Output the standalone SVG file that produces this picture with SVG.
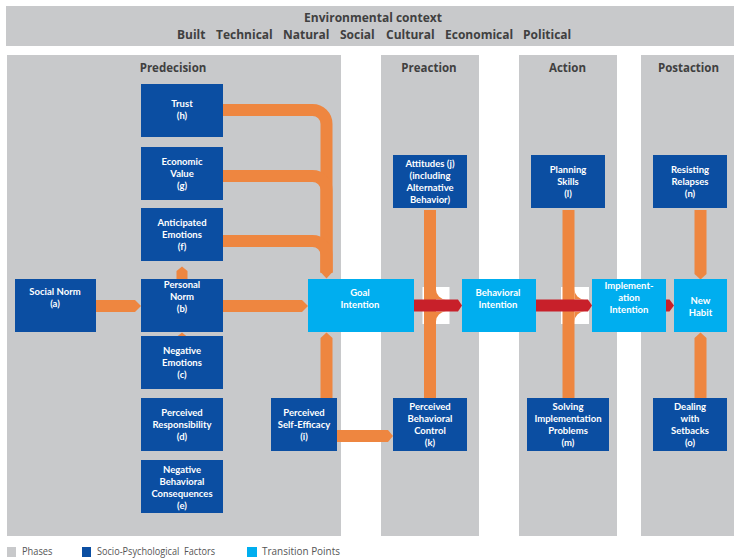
<svg xmlns="http://www.w3.org/2000/svg" width="734" height="558" viewBox="0 0 734 558">
  <style>
    .phase { fill: #C8C9CB; }
    .head { font-family: "Open Sans", "DejaVu Sans", sans-serif; font-weight: 700; fill: #404040; text-anchor: middle; }
    .ctx { font-family: "Open Sans", "DejaVu Sans", sans-serif; font-weight: 700; font-size: 12px; fill: #404040; }
    .factor { fill: #0B4EA2; }
    .transit { fill: #00AEEF; }
    .lbl { font-family: Lato, "Open Sans", sans-serif; font-weight: 700; font-size: 9.5px; fill: #FFFFFF; text-anchor: middle; }
    .flow { fill: #EE8640; }
    .flowline { fill: none; stroke: #EE8640; stroke-width: 12; }
    .main { fill: #C8202A; }
    .gap { fill: #FFFFFF; }
    .legend { font-family: "Open Sans", "Liberation Sans", sans-serif; font-size: 10px; fill: #555555; }
  </style>

  <!-- environmental context banner -->
  <g id="context">
    <rect class="phase" x="6" y="6" width="728" height="40"/>
    <text class="ctx" x="373" y="21.7" text-anchor="middle">Environmental context</text>
    <text class="ctx" x="177" y="39.3">Built</text>
    <text class="ctx" x="216" y="39.3">Technical</text>
    <text class="ctx" x="283" y="39.3">Natural</text>
    <text class="ctx" x="340" y="39.3">Social</text>
    <text class="ctx" x="386" y="39.3">Cultural</text>
    <text class="ctx" x="445" y="39.3">Economical</text>
    <text class="ctx" x="523" y="39.3">Political</text>
  </g>

  <!-- phase columns -->
  <g id="phases">
    <rect class="phase" x="7" y="55" width="334" height="481"/>
    <rect class="phase" x="381" y="55" width="98" height="481"/>
    <rect class="phase" x="519" y="55" width="98" height="481"/>
    <rect class="phase" x="641" y="55" width="93" height="481"/>
    <text class="head" font-size="11.5" x="173" y="71.7">Predecision</text>
    <text class="head" font-size="11.5" x="429" y="71.7">Preaction</text>
    <text class="head" font-size="11.5" x="567.5" y="71.7">Action</text>
    <text class="head" font-size="11.5" x="688.5" y="71.7">Postaction</text>
  </g>

  <!-- connectors -->
  <g id="connectors">
    <!-- h, g, f feeding the goal intention -->
    <path class="flowline" d="M223,110 H312.5 A14,14 0 0 1 326.5,124 V272.5"/>
    <path class="flowline" d="M223,176 H312.5 A14,14 0 0 1 326.5,190 V272.5"/>
    <path class="flowline" d="M223,241 H312.5 A14,14 0 0 1 326.5,255 V272.5"/>
    <polygon class="flow" points="320.5,272 332.5,272 326.5,278.5"/>

    <!-- a -> b -> goal -->
    <polygon class="flow" points="96,300 135,300 141,306 135,312 96,312"/>
    <polygon class="flow" points="223,300 302,300 308,306 302,312 223,312"/>

    <!-- b -> f, c -> b -->
    <polygon class="flow" points="176.5,285 176.5,271 182,266.5 187.5,271 187.5,285"/>
    <polygon class="flow" points="176.5,345 176.5,337 182,332.5 187.5,337 187.5,345"/>

    <!-- self-efficacy -> goal, self-efficacy -> behavioral control -->
    <polygon class="flow" points="320.5,398 320.5,338 326.5,332.5 332.5,338 332.5,398"/>
    <polygon class="flow" points="337,430 388,430 393,436 388,442 337,442"/>

    <!-- attitudes / behavioral control merging into the intention flow -->
    <rect class="gap" x="422.5" y="287" width="27" height="37"/>
    <rect class="flow" x="424" y="210" width="12" height="188"/>
    <path class="flow" d="M436,289.5 A10,10 0 0 0 446,299.5 L436,299.5 Z"/>
    <path class="flow" d="M436,321.5 A10,10 0 0 1 446,311.5 L436,311.5 Z"/>

    <!-- planning skills / solving problems merging -->
    <rect class="gap" x="561" y="287" width="28" height="37"/>
    <rect class="flow" x="562.5" y="210" width="12" height="188"/>
    <path class="flow" d="M574.5,289.5 A10,10 0 0 0 584.5,299.5 L574.5,299.5 Z"/>
    <path class="flow" d="M574.5,321.5 A10,10 0 0 1 584.5,311.5 L574.5,311.5 Z"/>

    <!-- relapses / setbacks -> new habit -->
    <polygon class="flow" points="694.5,210 706.5,210 706.5,274 700.5,279.5 694.5,274"/>
    <polygon class="flow" points="694.5,398 694.5,338 700.5,332.5 706.5,338 706.5,398"/>

    <!-- main intention chain -->
    <polygon class="main" points="414,299.5 458,299.5 462,305.5 458,311.5 414,311.5"/>
    <polygon class="main" points="536,299.5 588,299.5 592,305.5 588,311.5 536,311.5"/>
    <polygon class="main" points="666,299.5 669.5,299.5 674,305.5 669.5,311.5 666,311.5"/>
  </g>

  <!-- socio-psychological factors -->
  <g id="node-h">
    <rect class="factor" x="141" y="84" width="82" height="53"/>
    <text class="lbl" x="182" y="107.3">Trust</text>
    <text class="lbl" x="182" y="119.3">(h)</text>
  </g>
  <g id="node-g">
    <rect class="factor" x="141" y="147" width="82" height="53"/>
    <text class="lbl" x="182" y="164.7">Economic</text>
    <text class="lbl" x="182" y="176.7">Value</text>
    <text class="lbl" x="182" y="188.7">(g)</text>
  </g>
  <g id="node-f">
    <rect class="factor" x="141" y="208" width="82" height="53"/>
    <text class="lbl" x="182" y="225.7">Anticipated</text>
    <text class="lbl" x="182" y="237.7">Emotions</text>
    <text class="lbl" x="182" y="249.7">(f)</text>
  </g>
  <g id="node-a">
    <rect class="factor" x="15" y="279" width="81" height="53"/>
    <text class="lbl" x="55" y="295.3">Social Norm</text>
    <text class="lbl" x="55" y="307.3">(a)</text>
  </g>
  <g id="node-b">
    <rect class="factor" x="141" y="279" width="82" height="53"/>
    <text class="lbl" x="182" y="288.3">Personal</text>
    <text class="lbl" x="182" y="300.3">Norm</text>
    <text class="lbl" x="182" y="312.3">(b)</text>
  </g>
  <g id="node-c">
    <rect class="factor" x="141" y="336" width="82" height="53"/>
    <text class="lbl" x="182" y="353.7">Negative</text>
    <text class="lbl" x="182" y="365.7">Emotions</text>
    <text class="lbl" x="182" y="377.7">(c)</text>
  </g>
  <g id="node-d">
    <rect class="factor" x="141" y="398" width="82" height="53"/>
    <text class="lbl" x="182" y="415.7">Perceived</text>
    <text class="lbl" x="182" y="427.7">Responsibility</text>
    <text class="lbl" x="182" y="439.7">(d)</text>
  </g>
  <g id="node-e">
    <rect class="factor" x="141" y="460" width="82" height="53"/>
    <text class="lbl" x="182" y="472.7">Negative</text>
    <text class="lbl" x="182" y="484.7">Behavioral</text>
    <text class="lbl" x="182" y="496.7">Consequences</text>
    <text class="lbl" x="182" y="508.7">(e)</text>
  </g>
  <g id="node-i">
    <rect class="factor" x="271" y="398" width="66" height="53"/>
    <text class="lbl" x="304" y="415.7">Perceived</text>
    <text class="lbl" x="304" y="427.7">Self-Efficacy</text>
    <text class="lbl" x="304" y="439.7">(i)</text>
  </g>
  <g id="node-j">
    <rect class="factor" x="393" y="155" width="74" height="53"/>
    <text class="lbl" x="430" y="166.7">Attitudes (j)</text>
    <text class="lbl" x="430" y="178.7">(including</text>
    <text class="lbl" x="430" y="190.7">Alternative</text>
    <text class="lbl" x="430" y="202.7">Behavior)</text>
  </g>
  <g id="node-k">
    <rect class="factor" x="393" y="398" width="74" height="53"/>
    <text class="lbl" x="430" y="409.7">Perceived</text>
    <text class="lbl" x="430" y="421.7">Behavioral</text>
    <text class="lbl" x="430" y="433.7">Control</text>
    <text class="lbl" x="430" y="445.7">(k)</text>
  </g>
  <g id="node-l">
    <rect class="factor" x="531" y="155" width="74" height="53"/>
    <text class="lbl" x="568" y="172.7">Planning</text>
    <text class="lbl" x="568" y="184.7">Skills</text>
    <text class="lbl" x="568" y="196.7">(l)</text>
  </g>
  <g id="node-m">
    <rect class="factor" x="527" y="398" width="82" height="53"/>
    <text class="lbl" x="568" y="409.7">Solving</text>
    <text class="lbl" x="568" y="421.7">Implementation</text>
    <text class="lbl" x="568" y="433.7">Problems</text>
    <text class="lbl" x="568" y="445.7">(m)</text>
  </g>
  <g id="node-n">
    <rect class="factor" x="653" y="155" width="74" height="53"/>
    <text class="lbl" x="690" y="172.7">Resisting</text>
    <text class="lbl" x="690" y="184.7">Relapses</text>
    <text class="lbl" x="690" y="196.7">(n)</text>
  </g>
  <g id="node-o">
    <rect class="factor" x="653" y="398" width="74" height="53"/>
    <text class="lbl" x="690" y="409.7">Dealing</text>
    <text class="lbl" x="690" y="421.7">with</text>
    <text class="lbl" x="690" y="433.7">Setbacks</text>
    <text class="lbl" x="690" y="445.7">(o)</text>
  </g>

  <!-- transition points -->
  <g id="node-goal">
    <rect class="transit" x="308" y="279" width="106" height="53"/>
    <text class="lbl" x="360" y="295.7">Goal</text>
    <text class="lbl" x="360" y="307.7">Intention</text>
  </g>
  <g id="node-behavioral">
    <rect class="transit" x="462" y="279" width="74" height="53"/>
    <text class="lbl" x="498" y="295.7">Behavioral</text>
    <text class="lbl" x="498" y="307.7">Intention</text>
  </g>
  <g id="node-implementation">
    <rect class="transit" x="592" y="279" width="74" height="53"/>
    <text class="lbl" x="629" y="288.7">Implement-</text>
    <text class="lbl" x="629" y="300.7">ation</text>
    <text class="lbl" x="629" y="312.7">Intention</text>
  </g>
  <g id="node-habit">
    <rect class="transit" x="674" y="279" width="53" height="53"/>
    <text class="lbl" x="700.5" y="303.7">New</text>
    <text class="lbl" x="700.5" y="315.7">Habit</text>
  </g>

  <!-- legend -->
  <g id="legend">
    <rect class="phase" x="7" y="547" width="9" height="10"/>
    <text class="legend" x="22" y="555" textLength="30.5" lengthAdjust="spacingAndGlyphs">Phases</text>
    <rect class="factor" x="82" y="547" width="9" height="10"/>
    <text class="legend" x="97" y="555" textLength="118" lengthAdjust="spacingAndGlyphs" xml:space="preserve">Socio-Psychological  Factors</text>
    <rect class="transit" x="247" y="547" width="10" height="10"/>
    <text class="legend" x="262" y="555" textLength="78" lengthAdjust="spacingAndGlyphs">Transition Points</text>
  </g>
</svg>
